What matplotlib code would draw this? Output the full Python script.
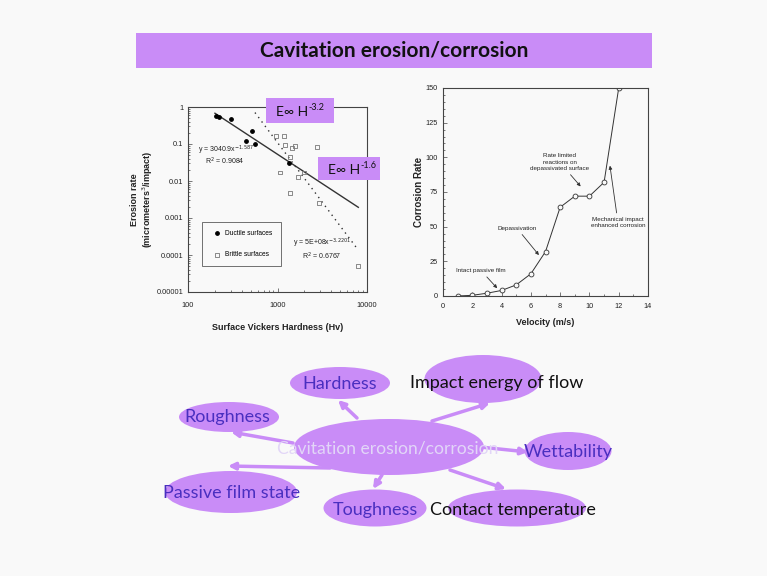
import numpy as np
import matplotlib.pyplot as plt
from matplotlib.patches import Ellipse, Rectangle

# left chart: erosion rate vs hardness
ductile_hv = [205, 222, 300, 520, 440, 560, 1350]
ductile_er = [0.56, 0.53, 0.46, 0.23, 0.12, 0.10, 0.030]
brittle_hv = [970, 1180, 1200, 1460, 1560, 1370, 1060, 1390, 1680, 1960, 2760, 2930, 8000]
brittle_er = [0.16, 0.16, 0.094, 0.077, 0.09, 0.045, 0.017, 0.0048, 0.013, 0.017, 0.085, 0.0026, 0.00005]
ductile_fit = (3040.9, -1.587)
brittle_fit = (5e8, -3.2201)
ductile_range = (200, 8000)
brittle_range = (560, 8000)

# right chart: corrosion rate vs velocity
velocity = [1, 2, 3, 4, 5, 6, 7, 8, 9, 10, 11, 12]
corrosion = [0, 0.5, 2, 4, 8, 16, 32, 64, 72, 72, 82, 150]

# mind map
center_label = "Cavitation erosion/corrosion"
nodes = ["Hardness", "Impact energy of flow", "Roughness", "Wettability",
         "Passive film state", "Toughness", "Contact temperature"]

violet = '#c98cf7'
label_blue = '#4a2fc0'
bg = '#f9f9f9'
narrow = ['Liberation Sans Narrow', 'Liberation Sans', 'DejaVu Sans']
ink = '#222222'

fig = plt.figure(figsize=(7.67, 5.76), dpi=100, facecolor=bg)

W, H = 767, 576


def px_axes(l, t, r, b):
    return fig.add_axes([l / W, 1 - b / H, (r - l) / W, (b - t) / H])


def style_axes(ax):
    ax.set_facecolor(bg)
    ax.tick_params(which='both', direction='in', labelsize=5.3, width=0.5, colors='#444444',
                   labelcolor=ink)
    ax.tick_params(which='major', length=3)
    ax.tick_params(which='minor', length=1.5)
    for lab in ax.get_xticklabels() + ax.get_yticklabels():
        lab.set_family(narrow)
    for sp in ax.spines.values():
        sp.set_linewidth(0.8)
        sp.set_color('#444444')


# ---- left chart
ax1 = px_axes(188, 107, 367, 292)
ax1.set_xscale('log')
ax1.set_yscale('log')
ax1.set_xlim(100, 10000)
ax1.set_ylim(1e-5, 1)
ax1.scatter(ductile_hv, ductile_er, s=6, color='black', marker='o', label='Ductile surfaces', zorder=3)
ax1.scatter(brittle_hv, brittle_er, s=8, facecolor='none', edgecolor='#777777', marker='s',
            linewidths=0.6, label='Brittle surfaces', zorder=3)
xd = np.logspace(np.log10(ductile_range[0]), np.log10(ductile_range[1]), 50)
ax1.plot(xd, ductile_fit[0] * xd ** ductile_fit[1], color='#333333', lw=1.0)
xb = np.logspace(np.log10(brittle_range[0]), np.log10(brittle_range[1]), 50)
ax1.plot(xb, brittle_fit[0] * xb ** brittle_fit[1], color='#333333', lw=1.0, ls=(0, (1, 3)))
ax1.set_xticks([100, 1000, 10000])
ax1.set_xticklabels(['100', '1000', '10000'])
ax1.set_yticks([1e-5, 1e-4, 1e-3, 1e-2, 1e-1, 1])
ax1.set_yticklabels(['0.00001', '0.0001', '0.001', '0.01', '0.1', '1'])
style_axes(ax1)
ax1.tick_params(axis='x', which='major', pad=7)
ax1.set_xlabel('Surface Vickers Hardness (Hv)', fontsize=6.5, fontweight='bold', family=narrow,
               labelpad=10, color=ink)
ax1.set_ylabel('Erosion rate\n(micrometers$^3$/impact)', fontsize=6.5, fontweight='bold',
               family=narrow, labelpad=1, color=ink)
leg = ax1.legend(loc='lower left', bbox_to_anchor=(0.06, 0.12), frameon=True,
                 fancybox=False, edgecolor='#333333', labelspacing=2.2, handletextpad=0.3,
                 borderpad=1.2, prop={'family': narrow, 'size': 4.8})
leg.get_frame().set_linewidth(0.6)
leg.get_frame().set_facecolor(bg)
ax1.text(0.054, 0.768, 'y = 3040.9x$^{-1.587}$', transform=ax1.transAxes, fontsize=5,
         family=narrow, va='center', color=ink)
ax1.text(0.094, 0.704, 'R$^2$ = 0.9084', transform=ax1.transAxes, fontsize=5,
         family=narrow, va='center', color=ink)
ax1.text(0.587, 0.263, 'y = 5E+08x$^{-3.2201}$', transform=ax1.transAxes, fontsize=5,
         family=narrow, va='center', color=ink)
ax1.text(0.637, 0.195, 'R$^2$ = 0.6767', transform=ax1.transAxes, fontsize=5,
         family=narrow, va='center', color=ink)

# ---- right chart
ax2 = px_axes(443, 88, 648, 296)
ax2.plot(velocity, corrosion, color='#333333', lw=0.7, marker='o', ms=3.5,
         mfc=bg, mec='#333333', mew=0.6)
ax2.set_xlim(0, 14)
ax2.set_ylim(0, 150)
ax2.set_xticks(range(0, 15, 2))
ax2.set_xticks(range(0, 15), minor=True)
ax2.set_yticks(range(0, 151, 25))
ax2.set_yticks(range(0, 151, 5), minor=True)
style_axes(ax2)
ax2.tick_params(axis='x', which='major', pad=5)
ax2.set_xlabel('Velocity (m/s)', fontsize=6.5, fontweight='bold', family=narrow, labelpad=6,
               color=ink)
ax2.set_ylabel('Corrosion Rate', fontsize=7, fontweight='bold', family=narrow, labelpad=1,
               color=ink)
arrow = dict(arrowstyle='-|>', color='#333333', lw=0.6, mutation_scale=5, shrinkA=1, shrinkB=0)
ax2.annotate('Intact passive film', xy=(3.7, 5.6), xytext=(2.6, 18.3), fontsize=4.5,
             family=narrow, ha='center', va='center', arrowprops=arrow, color=ink)
ax2.annotate('Depassivation', xy=(6.55, 29.5), xytext=(5.05, 48.9), fontsize=4.5,
             family=narrow, ha='center', va='center', arrowprops=arrow, color=ink)
ax2.annotate('Rate limited\nreactions on\ndepassivated surface', xy=(9.4, 79), xytext=(7.97, 96.5),
             fontsize=4.5, family=narrow, ha='center', va='center', arrowprops=arrow,
             linespacing=1.3, color=ink)
ax2.annotate('Mechanical impact\nenhanced corrosion', xy=(11.4, 94), xytext=(11.95, 52.9),
             fontsize=4.5, family=narrow, ha='center', va='center', arrowprops=arrow,
             linespacing=1.3, color=ink)

# ---- overlay: title, label boxes, mind map
ov = fig.add_axes([0, 0, 1, 1])
ov.set_xlim(0, W)
ov.set_ylim(H, 0)
ov.axis('off')
ov.patch.set_visible(False)

ov.add_patch(Rectangle((136, 33), 516, 35, color=violet, lw=0))
ov.text(394, 50.5, 'Cavitation erosion/corrosion', fontsize=15, fontweight='bold',
        family='Lato', ha='center', va='center', color='#111111')

# E ~ H^n boxes
for (bx, by, bw, bh), expo in [((266, 98, 68, 25), '-3.2'), ((318, 157, 62, 23), '-1.6')]:
    ov.add_patch(Rectangle((bx, by), bw, bh, color=violet, lw=0))
    t = ov.text(bx + 10, by + bh / 2 + 1.5, 'E\u221e H', fontsize=10, family='Lato',
                ha='left', va='center', color='#111111')
    ov.annotate(expo, xy=(1, 0.85), xycoords=t, xytext=(0.5, 0), textcoords='offset points',
                fontsize=6.5, family='Lato', ha='left', va='center', color='#111111')

# node layout: ellipse centre, size, label position, colour
ell = [(340, 383, 100, 32), (483, 379, 117, 48), (229, 417, 100, 30), (568, 451, 87, 38),
       (231, 492, 132, 42), (375, 508, 103, 37), (517, 508, 138, 37)]
lab_pos = [(340, 384), (497, 383), (227, 417), (568, 452), (232, 493), (375, 510), (513, 510)]
lab_col = [label_blue, '#111111', label_blue, label_blue, label_blue, label_blue, '#111111']
arrows = [((357, 418), (338, 400)), ((293, 443), (231, 432)), ((432, 421), (490, 403)),
          ((480, 447), (528, 452)), ((330, 468), (228, 466)), ((382, 475), (373, 489)),
          ((450, 470), (506, 489))]

ov.add_patch(Ellipse((389, 447), 190, 56, color=violet, lw=0, zorder=2))
for (cx, cy, w, h) in ell:
    ov.add_patch(Ellipse((cx, cy), w, h, color=violet, lw=0, zorder=2))
for (p0, p1) in arrows:
    ov.annotate('', xy=p1, xytext=p0, zorder=3,
                arrowprops=dict(arrowstyle='-|>', color=violet, lw=2.5, mutation_scale=10,
                                shrinkA=0, shrinkB=0))
ov.text(388, 449, center_label, fontsize=12.6, family='Lato', ha='center', va='center',
        color='#e2d6f7', zorder=4)
for name, (tx, ty), c in zip(nodes, lab_pos, lab_col):
    ov.text(tx, ty, name, fontsize=13, family='Lato', ha='center', va='center', color=c, zorder=4)

fig.savefig('out.png', dpi=100, facecolor=bg)
